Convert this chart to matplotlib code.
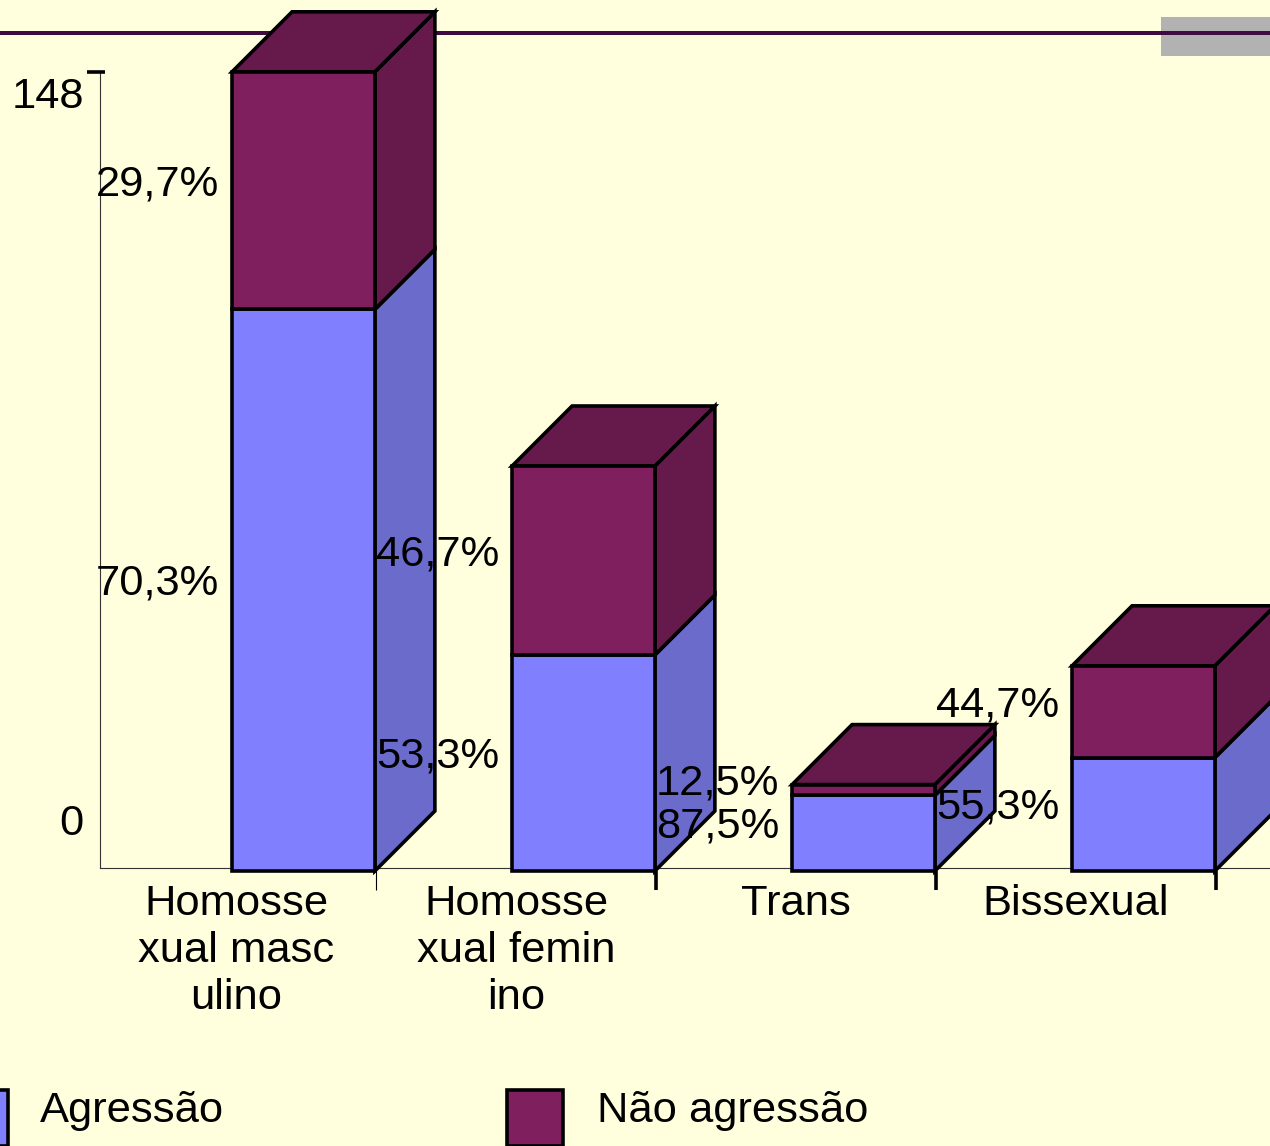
import matplotlib
matplotlib.use('Agg')
import matplotlib.pyplot as plt
from matplotlib.patches import Polygon, Rectangle
from matplotlib import transforms

# ---------------- data ----------------
categories = ["Homosse\nxual masc\nulino", "Homosse\nxual femin\nino", "Trans", "Bissexual"]
agressao = [104, 40, 14, 21]
nao_agressao = [44, 35, 2, 17]
pct_agressao = ["70,3%", "53,3%", "87,5%", "55,3%"]
pct_nao = ["29,7%", "46,7%", "12,5%", "44,7%"]
series_names = ["Agressão", "Não agressão"]
y_ticks = [0, 148]

# ---------------- style ----------------
W, H = 1270, 1146
DPI = 100
BG = '#FFFFDD'
C_AG = '#8080FF'
C_AG_SIDE = '#6B6BCC'
C_NAO = '#801F5E'
C_NAO_DARK = '#661A4C'
FONT = 'Liberation Sans'
FS = 31.3
LW = 2.6

fig = plt.figure(figsize=(W / DPI, H / DPI), dpi=DPI)
fig.patch.set_facecolor(BG)
ax = fig.add_axes([0, 0, 1, 1])
ax.set_facecolor(BG)
ax.set_axis_off()

px_per_cat = 280.0
cat0_px = 236.0
px_per_unit = 5.40
base_py = 871.0
ax.set_xlim(-cat0_px / px_per_cat, (W - cat0_px) / px_per_cat)
ax.set_ylim(-(H - base_py) / px_per_unit, base_py / px_per_unit)

dx = 60 / px_per_cat
dy = 60 / px_per_unit


def pxa(x, y):
    """pixel (from top-left) -> axes fraction"""
    return (x / W, 1 - y / H)


# decorations at top
ax.add_patch(Rectangle(pxa(1161, 56), 109 / W, 39 / H, transform=ax.transAxes,
                       facecolor='#B2B2B2', edgecolor='none', zorder=0.5))
ax.plot([0, 1], [1 - 33 / H] * 2, transform=ax.transAxes, color='#3F0A3F',
        lw=4 * 72 / DPI, zorder=1, solid_capstyle='butt')

# axes lines
axis_x = -0.486
ax.plot([axis_x, axis_x], [0.6, y_ticks[-1]], color='#333333', lw=0.8, zorder=1)
ax.plot([axis_x, 3.8], [0.6, 0.6], color='#333333', lw=0.8, zorder=1)
ax.plot([-0.532, -0.468], [y_ticks[-1]] * 2, color='black', lw=LW, zorder=1,
        solid_capstyle='butt')
for k, i in enumerate(range(len(categories))):
    ax.plot([i + 0.5, i + 0.5], [0, -19 / px_per_unit], color='black',
            lw=(0.8 if k == 0 else LW), zorder=1, solid_capstyle='butt')

# y labels
tr_148 = transforms.offset_copy(ax.transData, fig=fig, x=0, y=-25, units='dots')
tr_0 = transforms.offset_copy(ax.transData, fig=fig, x=0, y=47, units='dots')
ax.text(-0.543, y_ticks[1], str(y_ticks[1]), transform=tr_148, ha='right', va='center',
        fontsize=FS, family=FONT)
ax.text(-0.543, y_ticks[0], str(y_ticks[0]), transform=tr_0, ha='right', va='center',
        fontsize=FS, family=FONT)

# bars
bar_off = -0.014
bar_w = 0.51
xs = [i + bar_off for i in range(len(categories))]
ax.bar(xs, agressao, width=bar_w, align='edge', color=C_AG, edgecolor='black',
       lw=LW, zorder=3)
ax.bar(xs, nao_agressao, bottom=agressao, width=bar_w, align='edge', color=C_NAO,
       edgecolor='black', lw=LW, zorder=3)

for x0, a, n in zip(xs, agressao, nao_agressao):
    x1 = x0 + bar_w
    t = a + n
    side_a = [(x1, 0), (x1 + dx, dy), (x1 + dx, a + dy), (x1, a)]
    side_n = [(x1, a), (x1 + dx, a + dy), (x1 + dx, t + dy), (x1, t)]
    top = [(x0, t), (x0 + dx, t + dy), (x1 + dx, t + dy), (x1, t)]
    ax.add_patch(Polygon(side_a, closed=True, facecolor=C_AG_SIDE, edgecolor='black',
                         lw=LW, zorder=2, joinstyle='miter'))
    ax.add_patch(Polygon(side_n, closed=True, facecolor=C_NAO_DARK, edgecolor='black',
                         lw=LW, zorder=2, joinstyle='miter'))
    ax.add_patch(Polygon(top, closed=True, facecolor=C_NAO_DARK, edgecolor='black',
                         lw=LW, zorder=2, joinstyle='miter'))

# data labels
lab_off = 1.2
for i, (a, n, pa, pn) in enumerate(zip(agressao, nao_agressao, pct_agressao, pct_nao)):
    ax.text(i - 0.5, a / 2 + lab_off, pa, ha='left', va='center', fontsize=FS,
            family=FONT, zorder=5)
    ax.text(i - 0.5, a + n / 2 + lab_off, pn, ha='left', va='center', fontsize=FS,
            family=FONT, zorder=5)

# category labels
for i, c in enumerate(categories):
    ax.text(i, -2.4, c, ha='center', va='top', fontsize=FS, family=FONT,
            linespacing=1.22, zorder=5)

# legend (manual, partially clipped like the reference)
ax.add_patch(Rectangle(pxa(-48, 1146), 56 / W, 56 / H, transform=ax.transAxes,
                       facecolor=C_AG, edgecolor='black', lw=LW, zorder=4))
ax.add_patch(Rectangle(pxa(507, 1146), 56 / W, 56 / H, transform=ax.transAxes,
                       facecolor=C_NAO, edgecolor='black', lw=LW, zorder=4))
ax.text(*pxa(40, 1122), series_names[0], transform=ax.transAxes, ha='left',
        va='baseline', fontsize=FS, family=FONT)
ax.text(*pxa(597, 1122), series_names[1], transform=ax.transAxes, ha='left',
        va='baseline', fontsize=FS, family=FONT)

fig.savefig('out.png', dpi=DPI, facecolor=BG)
